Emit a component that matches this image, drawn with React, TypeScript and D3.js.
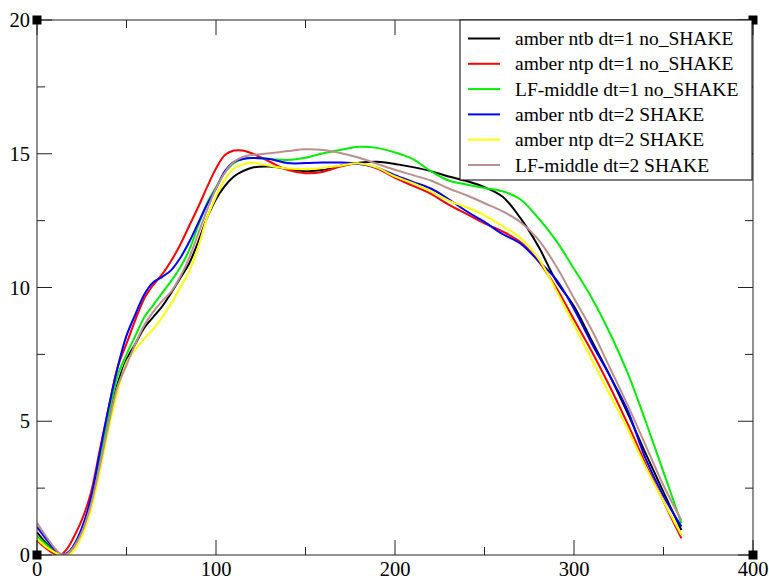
import React from "react";
import * as d3 from "d3";

const xs = [0, 5, 10, 13, 17, 20, 25, 30, 35, 40, 45, 50, 55, 60, 65, 70, 75, 80, 85, 90, 95, 100, 105, 110, 115, 120, 130, 140, 150, 160, 170, 180, 190, 200, 210, 220, 230, 240, 250, 260, 270, 280, 290, 300, 310, 320, 330, 340, 350, 360];

const blackY = [0.85, 0.45, 0.12, 0.0, 0.05, 0.25, 0.9, 1.9, 3.4, 5.0, 6.4, 7.3, 7.9, 8.5, 8.9, 9.3, 9.8, 10.35, 10.9, 11.7, 12.6, 13.3, 13.8, 14.15, 14.35, 14.48, 14.52, 14.43, 14.35, 14.4, 14.56, 14.66, 14.7, 14.62, 14.5, 14.35, 14.15, 13.98, 13.75, 13.4, 12.6, 11.55, 10.25, 9.3, 8.0, 6.7, 5.3, 3.8, 2.35, 0.93];
const redY = [0.55, 0.25, 0.03, 0.0, 0.25, 0.6, 1.3, 2.3, 3.9, 5.5, 7.0, 7.9, 8.8, 9.6, 10.1, 10.5, 11.0, 11.6, 12.3, 13.0, 13.75, 14.45, 14.95, 15.12, 15.12, 15.02, 14.7, 14.4, 14.27, 14.33, 14.53, 14.63, 14.45, 14.1, 13.8, 13.5, 13.1, 12.75, 12.4, 12.1, 11.7, 11.0, 10.0, 8.8, 7.6, 6.3, 4.9, 3.4, 2.0, 0.62];
const greenY = [0.7, 0.4, 0.1, 0.0, 0.05, 0.3, 0.95, 2.0, 3.5, 5.2, 6.7, 7.5, 8.2, 8.9, 9.35, 9.8, 10.25, 10.75, 11.4, 12.3, 13.15, 13.75, 14.3, 14.65, 14.8, 14.84, 14.8, 14.77, 14.85, 15.02, 15.15, 15.26, 15.22, 15.05, 14.8, 14.35, 14.0, 13.85, 13.72, 13.6, 13.3, 12.6, 11.75, 10.7, 9.6, 8.3, 6.8, 5.0, 3.1, 1.18];
const blueY = [1.05, 0.6, 0.2, 0.02, 0.08, 0.3, 1.0, 2.1, 3.8, 5.5, 7.0, 8.2, 9.0, 9.75, 10.2, 10.4, 10.65, 11.1, 11.7, 12.4, 13.1, 13.7, 14.35, 14.7, 14.8, 14.84, 14.8, 14.65, 14.65, 14.67, 14.67, 14.62, 14.48, 14.2, 13.95, 13.7, 13.3, 12.85, 12.45, 12.0, 11.65, 11.0, 10.3, 9.2, 7.9, 6.7, 5.4, 3.6, 2.2, 1.06];
const yellowY = [0.6, 0.3, 0.1, 0.0, 0.0, 0.12, 0.7, 1.65, 3.1, 4.7, 6.1, 7.2, 7.7, 8.1, 8.45, 8.9, 9.4, 10.0, 10.6, 11.5, 12.6, 13.4, 14.05, 14.45, 14.6, 14.67, 14.55, 14.45, 14.42, 14.47, 14.56, 14.64, 14.48, 14.15, 13.9, 13.6, 13.25, 13.0, 12.7, 12.3, 11.85, 11.1, 9.9, 8.6, 7.3, 6.0, 4.7, 3.3, 2.0, 0.75];
const brownY = [1.2, 0.7, 0.25, 0.05, 0.05, 0.25, 0.85, 1.85, 3.3, 4.9, 6.3, 7.1, 7.9, 8.6, 9.1, 9.5, 9.85, 10.4, 11.1, 12.0, 12.9, 13.7, 14.3, 14.7, 14.88, 14.95, 15.02, 15.1, 15.17, 15.14, 15.02, 14.85, 14.62, 14.4, 14.2, 14.0, 13.7, 13.45, 13.15, 12.85, 12.45, 11.8, 10.8, 9.6, 8.4, 7.0, 5.6, 4.1, 2.6, 1.3];

const seriesNames = [
  "amber ntb dt=1 no_SHAKE",
  "amber ntp dt=1 no_SHAKE",
  "LF-middle dt=1 no_SHAKE",
  "amber ntb dt=2 SHAKE",
  "amber ntp dt=2 SHAKE",
  "LF-middle dt=2 SHAKE",
];
const seriesColors = ["#000000", "#ff0000", "#00ee00", "#0000ff", "#ffff00", "#bc8f8f"];
const seriesValues = [blackY, redY, greenY, blueY, yellowY, brownY];

const xTicks = [0, 100, 200, 300, 400];
const xMinor = [50, 150, 250, 350];
const yTicks = [0, 5, 10, 15, 20];
const yMinor = [2.5, 7.5, 12.5, 17.5];

const W = 769;
const H = 581;
const L = 37, R = 753, T = 20, B = 555;

export default function App() {
  const x = d3.scaleLinear().domain([0, 400]).range([L, R]);
  const y = d3.scaleLinear().domain([0, 20]).range([B, T]);
  const line = d3
    .line<number>()
    .x((_, i) => x(xs[i]))
    .y((d) => y(d))
    .curve(d3.curveCatmullRom.alpha(0.5));

  const font = "Liberation Serif, Tinos, Times New Roman, Times, DejaVu Serif, serif";
  const majorLen = 15;
  const minorLen = 8;
  const frame = "#222";

  const legX = 460, legY = 20, legW = 292, legH = 160;
  const legStep = 25.3;

  return (
    <svg width={W} height={H} style={{ position: "absolute", left: 0, top: 0, background: "#fff" }}>
      <rect x={0} y={0} width={W} height={H} fill="#fff" />
      <defs>
        <clipPath id="plot">
          <rect x={L} y={T} width={R - L} height={B - T} />
        </clipPath>
      </defs>
      <g clipPath="url(#plot)">
        {seriesValues.map((vals, i) => (
          <path key={i} d={line(vals) || ""} fill="none" stroke={seriesColors[i]} strokeWidth={2} />
        ))}
      </g>
      <rect x={L} y={T} width={R - L} height={B - T} fill="none" stroke={frame} strokeWidth={1} />
      {xTicks.map((t) => (
        <g key={"xt" + t}>
          <line x1={x(t)} x2={x(t)} y1={B} y2={B - majorLen} stroke={frame} />
          <line x1={x(t)} x2={x(t)} y1={T} y2={T + majorLen} stroke={frame} />
          <text x={x(t)} y={576} textAnchor="middle" fontFamily={font} fontSize={20.5}>{t}</text>
        </g>
      ))}
      {xMinor.map((t) => (
        <g key={"xm" + t}>
          <line x1={x(t)} x2={x(t)} y1={B} y2={B - minorLen} stroke={frame} />
          <line x1={x(t)} x2={x(t)} y1={T} y2={T + minorLen} stroke={frame} />
        </g>
      ))}
      {yTicks.map((t) => (
        <g key={"yt" + t}>
          <line x1={L} x2={L + majorLen} y1={y(t)} y2={y(t)} stroke={frame} />
          <line x1={R} x2={R - majorLen} y1={y(t)} y2={y(t)} stroke={frame} />
          <text x={30} y={y(t) + 7} textAnchor="end" fontFamily={font} fontSize={20.5}>{t}</text>
        </g>
      ))}
      {yMinor.map((t) => (
        <g key={"ym" + t}>
          <line x1={L} x2={L + minorLen} y1={y(t)} y2={y(t)} stroke={frame} />
          <line x1={R} x2={R - minorLen} y1={y(t)} y2={y(t)} stroke={frame} />
        </g>
      ))}
      {[[L, T], [R, T], [L, B], [R, B]].map(([cx, cy], i) => (
        <rect key={"c" + i} x={cx - 4.5} y={cy - 4.5} width={9} height={9} fill="#000" />
      ))}
      <rect x={legX} y={legY} width={legW} height={legH} fill="#fff" stroke="#000" strokeWidth={1} />
      {seriesNames.map((name, i) => {
        const ly = 38.5 + i * legStep;
        return (
          <g key={"lg" + i}>
            <line x1={468} x2={500} y1={ly} y2={ly} stroke={seriesColors[i]} strokeWidth={2} />
            <text x={515} y={ly + 6.5} fontFamily={font} fontSize={19.5} fill="#000">{name}</text>
          </g>
        );
      })}
    </svg>
  );
}
